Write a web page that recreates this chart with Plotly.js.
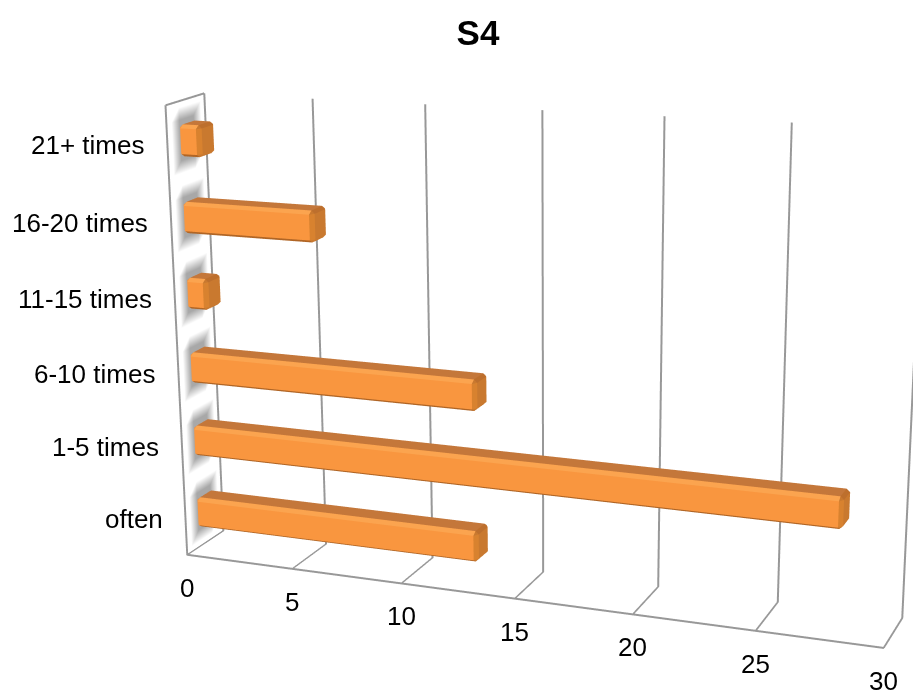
<!DOCTYPE html>
<html><head><meta charset="utf-8"><script src="https://cdn.plot.ly/plotly-3.0.1.min.js"></script>
<style>html,body{margin:0;padding:0;background:#fff;width:913px;height:690px;overflow:hidden}#c{position:absolute;left:-180px;top:-540px;width:1200px;height:1960px}</style></head><body><div id="c"></div>
<script>
const categories=["often","1-5 times","6-10 times","11-15 times","16-20 times","21+ times"];
const values=[13,28,13,1,6,1];
const tickValues=[0,5,10,15,20,25,30];
const FONT={family:'Liberation Sans, Arial, sans-serif',size:26,color:'#000'};
const shade={front:'#f9963f',top:'#c4773a',right:'#c9792f',bottom:'#a65f22',back:'#a65f22',left:'#f9963f',
 frontTop:'#fba44f',frontBottom:'#b06525',frontRight:'#d8822f',topRight:'#bd6f2d',other:'#c4773a'};
function bar(v,c){
  const cx=v/2+0.03,hx=v/2,cy=0.47,hy=0.22,cz=c+0.505,hz=0.205,ex=0.14,ey=0.07,ez=0.04;
  const X=[],Y=[],Z=[],idx={};
  const S=[-1,1];
  for(const a of [0,1,2])for(const sx of S)for(const sy of S)for(const sz of S){
    idx[[a,sx,sy,sz]]=X.length;
    X.push(cx+sx*(a===0?hx:hx-ex));Y.push(cy+sy*(a===1?hy:hy-ey));Z.push(cz+sz*(a===2?hz:hz-ez));
  }
  const I=[],J=[],K=[],F=[];
  const quad=(p,q,r,s,col)=>{I.push(p,p);J.push(q,r);K.push(r,s);F.push(col,col);};
  const v_=(a,sx,sy,sz)=>idx[[a,sx,sy,sz]];
  for(const s of S){
    quad(v_(0,s,-1,-1),v_(0,s,1,-1),v_(0,s,1,1),v_(0,s,-1,1),s>0?shade.right:shade.left);
    quad(v_(1,-1,s,-1),v_(1,1,s,-1),v_(1,1,s,1),v_(1,-1,s,1),s>0?shade.back:shade.front);
    quad(v_(2,-1,-1,s),v_(2,1,-1,s),v_(2,1,1,s),v_(2,-1,1,s),s>0?shade.top:shade.bottom);
  }
  for(const a of S)for(const b of S){
    const colX=(a<0&&b>0)?shade.frontTop:(a<0&&b<0)?shade.frontBottom:shade.other;
    quad(v_(1,-1,a,b),v_(1,1,a,b),v_(2,1,a,b),v_(2,-1,a,b),colX);
    const colZ=(a>0&&b<0)?shade.frontRight:(a<0&&b<0)?shade.front:shade.right;
    quad(v_(0,a,b,-1),v_(0,a,b,1),v_(1,a,b,1),v_(1,a,b,-1),colZ);
    const colY=(a>0&&b>0)?shade.topRight:(a<0&&b>0)?shade.top:shade.right;
    quad(v_(0,a,-1,b),v_(0,a,1,b),v_(2,a,1,b),v_(2,a,-1,b),colY);
  }
  for(const sx of S)for(const sy of S)for(const sz of S){
    I.push(v_(0,sx,sy,sz));J.push(v_(1,sx,sy,sz));K.push(v_(2,sx,sy,sz));F.push(sx>0?shade.right:shade.front);
  }
  return {type:'mesh3d',x:X,y:Y,z:Z,i:I,j:J,k:K,facecolor:F,flatshading:true,
   lighting:{ambient:1,diffuse:0,specular:0,fresnel:0,roughness:1},hoverinfo:'skip',showscale:false};
}
function wallShadow(c){
  const ys=[0.12,0.32,0.68,0.88],zs=[c+0.08,c+0.24,c+0.76,c+0.92];
  const X=[],Y=[],Z=[],C=[],I=[],J=[],K=[];
  zs.forEach((z,a)=>ys.forEach((y,b)=>{
    X.push(0.02);Y.push(y);Z.push(z);
    C.push((a===0||a===3||b===0||b===3)?'#ffffff':'#a8a8a8');
  }));
  for(let a=0;a<3;a++)for(let b=0;b<3;b++){
    const p=a*4+b;I.push(p,p);J.push(p+1,p+5);K.push(p+5,p+4);
  }
  return {type:'mesh3d',x:X,y:Y,z:Z,i:I,j:J,k:K,vertexcolor:C,
   lighting:{ambient:1,diffuse:0,specular:0,fresnel:0,roughness:1},hoverinfo:'skip',showscale:false};
}
const traces=[];
values.forEach((v,i)=>traces.push(wallShadow(i)));
values.forEach((v,i)=>traces.push(bar(v,i)));
traces.push({type:'scatter3d',mode:'lines',x:[0,0],y:[0,1],z:[6,6],line:{color:'#989898',width:4},hoverinfo:'skip',showlegend:false});
const anns=categories.map((t,i)=>({x:0,y:0,z:i+0.5,text:t,showarrow:false,xanchor:'right',xshift:-21,font:FONT}));
tickValues.forEach(v=>anns.push({x:v,y:0,z:0,text:String(v),showarrow:false,yshift:-33,font:FONT}));
const ax=(o)=>Object.assign({showbackground:false,showspikes:false,zeroline:false,showticklabels:false,title:{text:''},linecolor:'#989898',linewidth:4,gridcolor:'#989898',gridwidth:4},o);
Plotly.newPlot('c',traces,{
 width:1200,height:1960,margin:{l:0,r:0,t:0,b:0},paper_bgcolor:'#fff',showlegend:false,
 title:{text:'<b>S4</b>',x:0.5483,xanchor:'center',y:0.708,yanchor:'middle',font:{family:'Liberation Sans, Arial, sans-serif',size:35,color:'#000'}},
 scene:{domain:{x:[0,1],y:[0,1]},bgcolor:'#fff',
  aspectmode:'manual',aspectratio:{x:1.48,y:0.164,z:0.952},
  camera:{eye:{x:1.5835,y:-4.212,z:1.208},center:{x:-0.236,y:0.002,z:-0.194},up:{x:-0.0996,y:0.275,z:0.956},projection:{type:'perspective'}},
  xaxis:ax({range:[0,30],tickvals:tickValues,showgrid:true,showline:true}),
  yaxis:ax({range:[0,1],showgrid:false,showline:true,tickvals:[]}),
  zaxis:ax({range:[0,6],showgrid:false,showline:true,tickvals:[]}),
  annotations:anns}
},{displayModeBar:false});
</script></body></html>
